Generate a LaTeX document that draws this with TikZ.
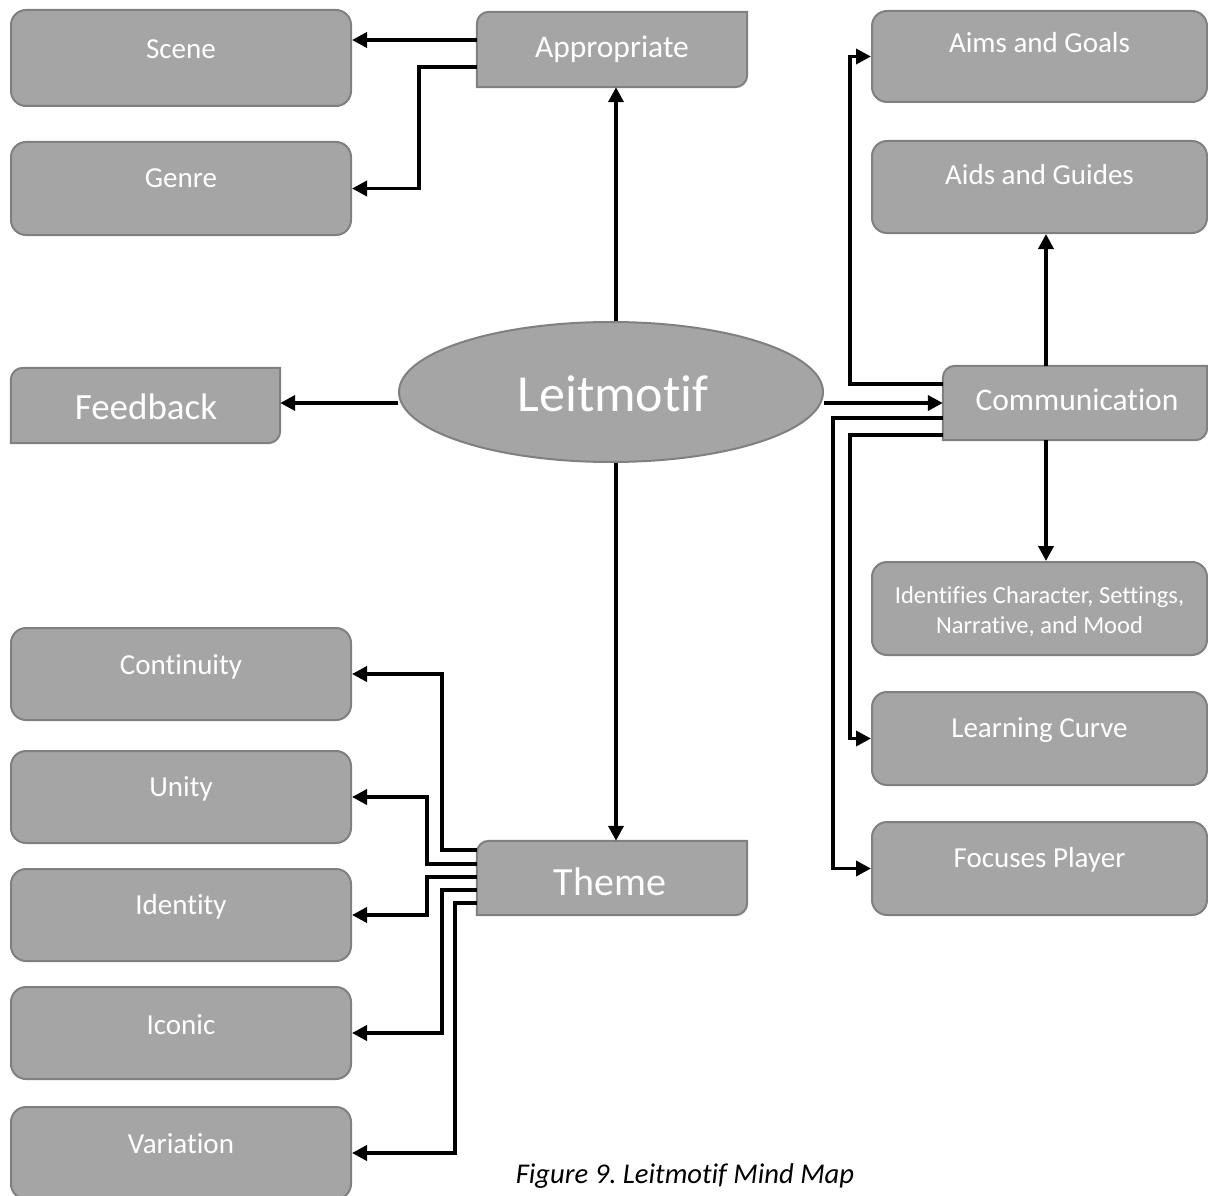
\documentclass[tikz,border=0pt]{standalone}
\usepackage{fontspec}
\setmainfont{Carlito}[Ligatures={NoCommon}]
\usetikzlibrary{arrows.meta,calc,shapes.geometric}
\definecolor{boxfill}{HTML}{A5A5A5}
\definecolor{boxedge}{HTML}{808080}
\frenchspacing

% box with rounded top-left and bottom-right corners, drawn round an invisible node
\newcommand\halfround[1]{%
  \filldraw[boxbase]
    ($(#1.north west)+(0pt,-12pt)$) .. controls ($(#1.north west)+(0pt,-5.4pt)$) and ($(#1.north west)+(5.4pt,0pt)$) .. ($(#1.north west)+(12pt,0pt)$)
    -- (#1.north east)
    -- ($(#1.south east)+(0pt,12pt)$) .. controls ($(#1.south east)+(0pt,5.4pt)$) and ($(#1.south east)+(-5.4pt,0pt)$) .. ($(#1.south east)+(-12pt,0pt)$)
    -- (#1.south west) -- cycle;}

\begin{document}
\begin{tikzpicture}[x=1pt,y=-1pt,
  boxbase/.style={fill=boxfill,draw=boxedge,line width=2pt},
  roundbox/.style={boxbase,rectangle,rounded corners=15pt,inner sep=0pt},
  plainbox/.style={rectangle,inner sep=0pt,draw=none},
  boxtext/.style={anchor=base,text=white,inner sep=0pt},
  small/.style={font=\fontsize{29}{35}\selectfont},
  arr/.style={line width=3.6pt,-{Triangle[length=15pt,width=15pt]}},
]
\useasboundingbox (0,0) rectangle (1208,1196);

% ---- left column (Appropriate branch)
\node[roundbox,minimum width=340pt,minimum height=96pt] (scene) at (181,58) {};
\node[roundbox,minimum width=340pt,minimum height=93pt] (genre) at (181,188.5) {};

% ---- left column (Theme branch)
\node[roundbox,minimum width=340pt,minimum height=92pt] (cont)   at (181,674) {};
\node[roundbox,minimum width=340pt,minimum height=92pt] (unity)  at (181,797) {};
\node[roundbox,minimum width=340pt,minimum height=92pt] (identy) at (181,915) {};
\node[roundbox,minimum width=340pt,minimum height=92pt] (iconic) at (181,1033) {};
\node[roundbox,minimum width=340pt,minimum height=92pt] (var)    at (181,1153) {};

% ---- right column (Communication branch)
\node[roundbox,minimum width=335pt,minimum height=91pt] (aims)  at (1039.5,56.5) {};
\node[roundbox,minimum width=335pt,minimum height=92pt] (aids)  at (1039.5,187) {};
\node[roundbox,minimum width=335pt,minimum height=93pt] (ident) at (1039.5,608.5) {};
\node[roundbox,minimum width=335pt,minimum height=93pt] (learn) at (1039.5,738.5) {};
\node[roundbox,minimum width=335pt,minimum height=93pt] (focus) at (1039.5,868.5) {};

% ---- half-rounded hub boxes
\node[plainbox,minimum width=270pt,minimum height=75pt] (appr)  at (612,49.5) {};
\node[plainbox,minimum width=269pt,minimum height=75pt] (fb)    at (145.5,405.5) {};
\node[plainbox,minimum width=264pt,minimum height=74pt] (comm)  at (1075,403) {};
\node[plainbox,minimum width=270pt,minimum height=74pt] (theme) at (612,878) {};
\halfround{appr}
\halfround{fb}
\halfround{comm}
\halfround{theme}

% ---- central ellipse
\node[ellipse,boxbase,inner sep=0pt,minimum width=424pt,minimum height=140pt] (leit) at (611,392) {};

% ---- texts
\node[boxtext,small] (scene-t)  at (181,59)   {Scene};
\node[boxtext,small] (genre-t)  at (181,188)  {Genre};
\node[boxtext,small] (cont-t)   at (181,674)  {Continuity};
\node[boxtext,small] (unity-t)  at (181,796)  {Unity};
\node[boxtext,small] (identy-t) at (181,914)  {Identity};
\node[boxtext,small] (iconic-t) at (181,1034) {Iconic};
\node[boxtext,small] (var-t)    at (181,1153) {Variation};
\node[boxtext,small] (aims-t)   at (1039.5,53)  {Aims and Goals};
\node[boxtext,small] (aids-t)   at (1039.5,185) {Aids and Guides};
\node[boxtext,small] (learn-t)  at (1039.5,737) {Learning Curve};
\node[boxtext,small] (focus-t)  at (1039.5,867) {Focuses Player};
\node[boxtext,font=\fontsize{24.5}{30}\selectfont] (ident-t1) at (1039.5,603) {Identifies Character, Settings,};
\node[boxtext,font=\fontsize{24.5}{30}\selectfont] (ident-t2) at (1039.5,633) {Narrative, and Mood};
\node[boxtext,font=\fontsize{31.5}{38}\selectfont] (appr-t)  at (612,58)   {Appropriate};
\node[boxtext,font=\fontsize{31.5}{38}\selectfont] (comm-t)  at (1077,410) {Communication};
\node[boxtext,font=\fontsize{37}{44}\selectfont]   (fb-t)    at (146,419)  {Feedback};
\node[boxtext,font=\fontsize{40}{48}\selectfont]   (theme-t) at (610,895)  {Theme};
\node[boxtext,font=\fontsize{52}{62}\selectfont]   (leit-t)  at (613,411)  {Leitmotif};
\node[anchor=base,inner sep=0pt,font=\itshape\fontsize{28.6}{34}\selectfont] (caption) at (685,1183) {Figure 9. Leitmotif Mind Map};

% ---- bend points and levels of the connectors
\coordinate (lx) at (616,0);
\coordinate (ly) at (0,403);
\coordinate (cx) at (1046,0);
\coordinate (apA) at (0,40);
\coordinate (apB) at (419,67);
\coordinate (cA) at (850,384);
\coordinate (cL) at (850,435);
\coordinate (cF) at (833,418);
\coordinate (t1) at (442,850);
\coordinate (t2) at (427,864);
\coordinate (t3) at (427,877);
\coordinate (t4) at (442,890);
\coordinate (t5) at (455,903);

% ---- connectors from the centre
\draw[arr] (leit.north -| lx) -- (appr.south -| lx);
\draw[arr] (leit.south -| lx) -- (theme.north -| lx);
\draw[arr] (leit.west |- ly) -- (fb.east |- ly);
\draw[arr] (leit.east |- ly) -- (comm.west |- ly);

% ---- Appropriate branch
\draw[arr] (appr.west |- apA) -- (scene.east |- apA);
\draw[arr] (appr.west |- apB) -- (apB) |- (genre.east);

% ---- Communication branch
\draw[arr] (comm.west |- cA) -- (cA) |- (aims.west);
\draw[arr] (comm.north -| cx) -- (aids.south -| cx);
\draw[arr] (comm.south -| cx) -- (ident.north -| cx);
\draw[arr] (comm.west |- cL) -- (cL) |- (learn.west);
\draw[arr] (comm.west |- cF) -- (cF) |- (focus.west);

% ---- Theme branch
\draw[arr] (theme.west |- t1) -- (t1) |- (cont.east);
\draw[arr] (theme.west |- t2) -- (t2) |- (unity.east);
\draw[arr] (theme.west |- t3) -- (t3) |- (identy.east);
\draw[arr] (theme.west |- t4) -- (t4) |- (iconic.east);
\draw[arr] (theme.west |- t5) -- (t5) |- (var.east);
\end{tikzpicture}
\end{document}
